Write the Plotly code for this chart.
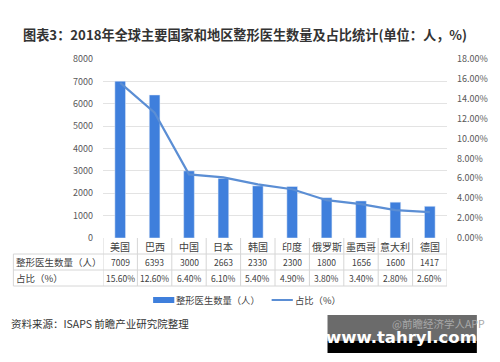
import plotly.graph_objects as go

countries = ["美国", "巴西", "中国", "日本", "韩国", "印度", "俄罗斯", "墨西哥", "意大利", "德国"]
surgeons = [7009, 6393, 3000, 2663, 2330, 2300, 1800, 1656, 1600, 1417]
share_pct = [15.60, 12.60, 6.40, 6.10, 5.40, 4.90, 3.80, 3.40, 2.80, 2.60]
left_ticks = [0, 1000, 2000, 3000, 4000, 5000, 6000, 7000, 8000]
right_ticks = [0, 2, 4, 6, 8, 10, 12, 14, 16, 18]

title = "图表3：2018年全球主要国家和地区整形医生数量及占比统计(单位：人，%)"
bar_name = "整形医生数量（人）"
line_name = "占比（%）"
source = "资料来源：ISAPS 前瞻产业研究院整理"

W, H = 500, 362
ML, MR, MT, MB = 103, 40, 59, 124
PW, PH = W - ML - MR, H - MT - MB

def px(x):
    return (x - ML) / PW

def py(y):
    return (H - MB - y) / PH

FONT = "Noto Sans CJK SC, Microsoft YaHei, sans-serif"
BAR_C = "#3f7fdc"
LINE_C = "#5b8ed4"
GRID_C = "#e3e3e3"
TABLE_C = "#d6d6d6"
TXT = "#404040"

fig = go.Figure()
fig.add_trace(go.Bar(x=countries, y=surgeons, name=bar_name, marker_color=BAR_C,
                     width=0.31, showlegend=False))
fig.add_trace(go.Scatter(x=countries, y=[v / 100 for v in share_pct], name=line_name,
                         yaxis="y2", mode="lines", line=dict(color=LINE_C, width=2.2),
                         showlegend=False))

shapes = []
annotations = []

def ann(x, y, text, size, color=TXT, xanchor="center", xref="paper", family=FONT):
    annotations.append(dict(x=x, xref=xref, y=y, yref="paper", text=text, showarrow=False,
                            font=dict(size=size, color=color, family=family),
                            xanchor=xanchor, yanchor="middle", align=xanchor,
                            borderpad=0))

# table lines
n = len(countries)
for i in range(n + 1):
    shapes.append(dict(type="line", xref="x", yref="paper", x0=i - 0.5, x1=i - 0.5,
                       y0=py(238), y1=py(286), line=dict(color=TABLE_C, width=1)))
shapes.append(dict(type="line", xref="paper", yref="paper", x0=px(10), x1=px(10),
                   y0=py(254), y1=py(286), line=dict(color=TABLE_C, width=1)))
for yy in [254, 270, 286]:
    shapes.append(dict(type="line", xref="paper", yref="paper", x0=px(10), x1=1,
                       y0=py(yy), y1=py(yy), line=dict(color=TABLE_C, width=1)))

for i, c in enumerate(countries):
    ann(c, py(246), c, 10, xref="x")
    ann(c, py(262), str(surgeons[i]), 8.5, xref="x")
    ann(c, py(278), f"{share_pct[i]:.2f}%", 8.5, xref="x")

ann(px(12), py(262), bar_name, 9.5, xanchor="left")
ann(px(12), py(278), line_name, 9.5, xanchor="left")

# title
ann(px(250), py(35), "<b>" + title + "</b>", 13.2, color="#333333")

# legend
shapes.append(dict(type="rect", xref="paper", yref="paper", x0=px(155), x1=px(177),
                   y0=py(297), y1=py(303), fillcolor=BAR_C, line=dict(width=0)))
ann(px(178), py(300), bar_name, 9.3, xanchor="left")
shapes.append(dict(type="line", xref="paper", yref="paper", x0=px(278), x1=px(300),
                   y0=py(300), y1=py(300), line=dict(color=LINE_C, width=2)))
ann(px(301), py(300), line_name, 9.3, xanchor="left")

# source
ann(px(7), py(323), source, 10.5, color="#333333", xanchor="left")

# watermark box
shapes.append(dict(type="rect", xref="paper", yref="paper", x0=px(336), x1=px(491),
                   y0=py(341), y1=py(315), fillcolor="#6b6b6b", line=dict(width=0), layer="above"))
shapes.append(dict(type="rect", xref="paper", yref="paper", x0=px(336), x1=px(491),
                   y0=py(353), y1=py(341), fillcolor="#000000", line=dict(width=0), layer="above"))
ann(px(500), py(323), "@前瞻经济学人APP", 10.5, color="#a8a8a8", xanchor="right")
ann(px(413), py(337), "<b>www.tahryl.com</b>", 16.5, color="#ffffff",
    family="DejaVu Sans, sans-serif")

fig.update_layout(
    width=W, height=H,
    margin=dict(l=ML, r=MR, t=MT, b=MB, pad=0),
    paper_bgcolor="white", plot_bgcolor="white",
    font=dict(family=FONT, color="#595959"),
    xaxis=dict(type="category", showticklabels=False, showgrid=False, zeroline=False,
               showline=False, ticks="", range=[-0.5, n - 0.5]),
    yaxis=dict(range=[0, 8000], tickvals=left_ticks, ticktext=[str(v) for v in left_ticks],
               showgrid=True, gridcolor=GRID_C, gridwidth=1, zeroline=False, showline=False,
               ticks="", tickfont=dict(size=9, color="#595959", family=FONT), ticklabelstandoff=9),
    yaxis2=dict(range=[0, 0.18], overlaying="y", side="right",
                tickvals=[v / 100 for v in right_ticks], ticktext=[f"{v:.2f}%" for v in right_ticks],
                showgrid=False, zeroline=False, showline=False, ticks="",
                tickfont=dict(size=9, color="#595959", family=FONT), ticklabelstandoff=9),
    shapes=shapes, annotations=annotations, showlegend=False,
)

fig.write_html("out.html", config={"displayModeBar": False},
               post_script="document.body.style.margin='0';document.body.style.overflow='hidden';")
